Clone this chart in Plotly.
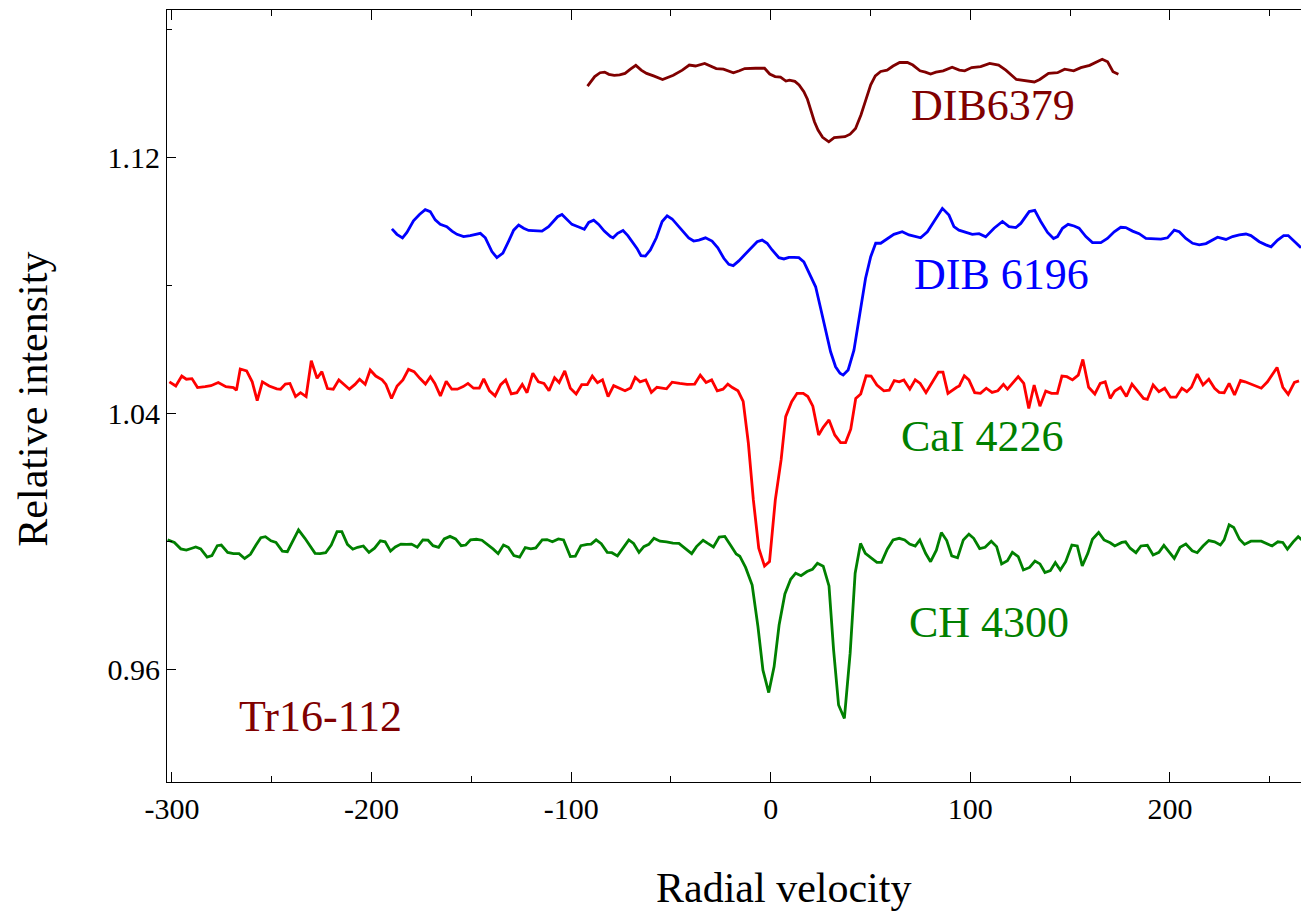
import plotly.graph_objects as go

# ---------------- data (radial velocity, relative intensity) ----------------
dib6379 = [(-91.8, 1.1423), (-88.2, 1.1453), (-85.5, 1.1465), (-83.2, 1.1467), (-81.1, 1.1460), (-78.4, 1.1457),
           (-75.7, 1.1458), (-73.0, 1.1463), (-70.3, 1.1476), (-67.6, 1.1488), (-64.9, 1.1473), (-62.2, 1.1463),
           (-58.7, 1.1455), (-54.2, 1.1444), (-48.8, 1.1457), (-44.3, 1.1473), (-40.8, 1.1489), (-37.7, 1.1486),
           (-33.1, 1.1494), (-30.5, 1.1487), (-27.3, 1.1478), (-23.7, 1.1476), (-18.7, 1.1465), (-15.7, 1.1471),
           (-13.0, 1.1478), (-7.6, 1.1479), (-3.1, 1.1479), (-0.5, 1.1461), (2.2, 1.1453), (4.9, 1.1451),
           (7.6, 1.1439), (9.4, 1.1442), (12.1, 1.1438), (14.2, 1.1427), (16.6, 1.1406), (18.4, 1.1382),
           (20.1, 1.1348), (21.9, 1.1312), (23.7, 1.1286), (26.0, 1.1263), (29.1, 1.1249), (31.8, 1.1262),
           (37.2, 1.1265), (39.8, 1.1273), (42.5, 1.1291), (45.2, 1.1333), (47.9, 1.1385), (50.1, 1.1427),
           (52.4, 1.1455), (55.1, 1.1469), (58.3, 1.1473), (61.3, 1.1486), (64.6, 1.1497), (68.5, 1.1497),
           (71.2, 1.1489), (74.8, 1.1471), (77.5, 1.1467), (80.1, 1.1461), (82.8, 1.1467), (86.4, 1.1471),
           (90.9, 1.1482), (94.5, 1.1473), (97.2, 1.1471), (100.7, 1.1481), (105.2, 1.1484), (109.7, 1.1494),
           (114.2, 1.1489), (117.8, 1.1473), (123.1, 1.1444), (128.5, 1.1440), (132.1, 1.1436), (134.8, 1.1444),
           (139.2, 1.1463), (143.7, 1.1465), (147.3, 1.1476), (151.8, 1.1471), (155.4, 1.1481), (159.8, 1.1488),
           (163.4, 1.1498), (166.1, 1.1507), (168.8, 1.1499), (171.5, 1.1468), (174.2, 1.1460)]

dib6196 = [(-189.8, 1.0977), (-187.3, 1.0960), (-184.5, 1.0949), (-182.3, 1.0966), (-179.0, 1.1002), (-176.0, 1.1022),
           (-173.1, 1.1037), (-170.6, 1.1031), (-168.1, 1.1005), (-165.6, 1.0991), (-162.3, 1.0984), (-159.7, 1.0970),
           (-157.2, 1.0960), (-153.9, 1.0953), (-150.6, 1.0956), (-145.5, 1.0963), (-143.0, 1.0949), (-139.7, 1.0906),
           (-137.2, 1.0887), (-134.2, 1.0901), (-131.3, 1.0939), (-128.8, 1.0973), (-126.3, 1.0989), (-123.8, 1.0979),
           (-121.3, 1.0972), (-118.0, 1.0972), (-114.6, 1.0970), (-111.3, 1.0984), (-108.8, 1.1000), (-106.8, 1.1015),
           (-104.6, 1.1022), (-102.4, 1.1008), (-99.6, 1.0991), (-96.2, 1.0983), (-93.4, 1.0976), (-91.2, 1.0997),
           (-88.7, 1.1004), (-86.2, 1.0991), (-83.4, 1.0970), (-80.3, 1.0953), (-79.0, 1.0949), (-76.7, 1.0963),
           (-74.0, 1.0972), (-71.6, 1.0956), (-69.0, 1.0935), (-67.0, 1.0916), (-65.0, 1.0893), (-62.8, 1.0892),
           (-60.3, 1.0911), (-57.3, 1.0949), (-54.4, 1.1000), (-51.9, 1.1018), (-49.4, 1.1008), (-46.9, 1.0991),
           (-43.6, 1.0968), (-41.1, 1.0949), (-38.6, 1.0939), (-36.0, 1.0942), (-32.7, 1.0949), (-29.4, 1.0939),
           (-26.5, 1.0918), (-23.5, 1.0885), (-21.0, 1.0866), (-18.8, 1.0862), (-16.0, 1.0877), (-12.6, 1.0899),
           (-9.3, 1.0921), (-6.8, 1.0937), (-4.3, 1.0942), (-1.8, 1.0932), (0.7, 1.0911), (4.1, 1.0887),
           (6.6, 1.0883), (9.1, 1.0888), (11.6, 1.0888), (14.1, 1.0887), (16.6, 1.0874), (19.1, 1.0843),
           (22.5, 1.0796), (25.0, 1.0729), (27.5, 1.0656), (30.0, 1.0593), (32.5, 1.0546), (34.7, 1.0526),
           (36.3, 1.0520), (38.8, 1.0536), (41.7, 1.0598), (45.4, 1.0744), (47.5, 1.0822), (50.1, 1.0890),
           (52.6, 1.0932), (55.1, 1.0932), (58.4, 1.0947), (61.7, 1.0960), (65.9, 1.0968), (69.3, 1.0958),
           (75.1, 1.0949), (78.5, 1.0968), (81.8, 1.1000), (86.0, 1.1041), (89.3, 1.1020), (91.8, 1.0984),
           (94.3, 1.0973), (97.7, 1.0966), (101.0, 1.0960), (104.4, 1.0962), (107.7, 1.0952), (111.9, 1.0979),
           (116.1, 1.1000), (119.4, 1.0984), (122.8, 1.0981), (125.3, 1.0994), (129.5, 1.1031), (132.3, 1.1035),
           (135.3, 1.1000), (138.7, 1.0966), (141.7, 1.0947), (143.7, 1.0953), (146.2, 1.0979), (149.0, 1.0991),
           (152.0, 1.0986), (154.5, 1.0979), (157.9, 1.0953), (161.2, 1.0934), (165.4, 1.0934), (168.7, 1.0947),
           (172.1, 1.0968), (175.4, 1.0982), (177.9, 1.0981), (181.3, 1.0970), (184.6, 1.0962), (188.0, 1.0947),
           (191.3, 1.0947), (195.5, 1.0945), (198.8, 1.0949), (202.2, 1.0973), (204.7, 1.0968), (208.0, 1.0947),
           (211.4, 1.0932), (214.7, 1.0927), (218.1, 1.0931), (221.4, 1.0942), (223.9, 1.0951), (228.1, 1.0944),
           (231.4, 1.0953), (234.8, 1.0958), (238.1, 1.0961), (240.6, 1.0956), (244.8, 1.0937), (248.1, 1.0927),
           (250.7, 1.0921), (254.0, 1.0942), (257.0, 1.0956), (259.3, 1.0956), (262.4, 1.0937), (265.7, 1.0918)]

cai4226 = [(-301.3, 1.0499), (-298.1, 1.0486), (-295.1, 1.0517), (-292.8, 1.0507), (-290.0, 1.0509), (-287.2, 1.0481),
           (-283.4, 1.0484), (-280.5, 1.0487), (-276.8, 1.0497), (-273.0, 1.0484), (-269.2, 1.0481), (-267.7, 1.0473),
           (-265.8, 1.0539), (-262.6, 1.0533), (-259.8, 1.0499), (-257.3, 1.0440), (-254.7, 1.0499), (-251.3, 1.0486),
           (-247.5, 1.0477), (-245.6, 1.0476), (-243.2, 1.0492), (-240.9, 1.0494), (-238.1, 1.0453), (-235.6, 1.0465),
           (-232.8, 1.0453), (-230.2, 1.0565), (-227.3, 1.0510), (-224.9, 1.0531), (-222.1, 1.0478), (-219.2, 1.0476),
           (-216.4, 1.0505), (-213.6, 1.0491), (-211.1, 1.0476), (-208.3, 1.0491), (-206.0, 1.0507), (-203.2, 1.0491),
           (-200.7, 1.0536), (-197.9, 1.0517), (-194.7, 1.0505), (-192.8, 1.0491), (-190.0, 1.0447), (-187.2, 1.0486),
           (-184.3, 1.0505), (-181.5, 1.0538), (-178.7, 1.0531), (-175.8, 1.0510), (-173.0, 1.0492), (-170.5, 1.0515),
           (-168.3, 1.0494), (-165.5, 1.0455), (-162.6, 1.0501), (-159.8, 1.0476), (-157.0, 1.0476), (-154.1, 1.0484),
           (-151.7, 1.0494), (-148.9, 1.0479), (-146.0, 1.0479), (-143.8, 1.0508), (-140.9, 1.0471), (-138.1, 1.0455),
           (-135.3, 1.0490), (-132.8, 1.0505), (-130.0, 1.0461), (-127.2, 1.0465), (-124.5, 1.0491), (-122.1, 1.0465),
           (-119.2, 1.0526), (-116.4, 1.0499), (-113.6, 1.0494), (-111.1, 1.0471), (-108.3, 1.0512), (-106.0, 1.0497),
           (-103.2, 1.0533), (-100.4, 1.0479), (-97.5, 1.0461), (-94.7, 1.0490), (-91.9, 1.0490), (-89.4, 1.0517),
           (-86.8, 1.0496), (-84.3, 1.0505), (-81.5, 1.0453), (-78.7, 1.0487), (-75.8, 1.0479), (-73.0, 1.0471),
           (-70.2, 1.0480), (-67.9, 1.0513), (-65.5, 1.0499), (-62.6, 1.0505), (-59.8, 1.0466), (-57.0, 1.0482),
           (-52.2, 1.0477), (-49.4, 1.0498), (-45.6, 1.0494), (-41.9, 1.0491), (-38.1, 1.0492), (-35.3, 1.0520),
           (-32.4, 1.0497), (-29.6, 1.0505), (-26.8, 1.0471), (-23.9, 1.0476), (-21.5, 1.0492), (-19.2, 1.0481),
           (-16.4, 1.0471), (-13.8, 1.0438), (-11.2, 1.0307), (-8.7, 1.0130), (-6.0, 0.9979), (-3.1, 0.9923),
           (-0.6, 0.9937), (2.3, 1.0130), (5.2, 1.0255), (7.5, 1.0390), (10.5, 1.0437), (13.2, 1.0463),
           (16.3, 1.0463), (18.6, 1.0453), (21.1, 1.0423), (24.0, 1.0333), (26.3, 1.0357), (29.2, 1.0380),
           (32.1, 1.0333), (35.0, 1.0309), (37.5, 1.0309), (40.1, 1.0351), (42.6, 1.0447), (45.1, 1.0461),
           (47.8, 1.0518), (50.3, 1.0517), (53.2, 1.0489), (56.7, 1.0471), (59.4, 1.0473), (61.9, 1.0503),
           (64.4, 1.0499), (66.7, 1.0505), (69.7, 1.0476), (72.4, 1.0505), (74.9, 1.0494), (77.8, 1.0465),
           (81.1, 1.0499), (84.0, 1.0529), (86.3, 1.0529), (88.8, 1.0463), (93.2, 1.0482), (94.5, 1.0486),
           (97.0, 1.0518), (99.3, 1.0505), (102.2, 1.0465), (105.1, 1.0463), (108.0, 1.0479), (110.9, 1.0466),
           (113.8, 1.0471), (116.6, 1.0491), (118.6, 1.0476), (120.9, 1.0492), (124.0, 1.0515), (126.8, 1.0494),
           (129.3, 1.0416), (132.0, 1.0489), (134.9, 1.0423), (137.8, 1.0470), (140.7, 1.0463), (143.6, 1.0463),
           (145.9, 1.0517), (148.4, 1.0515), (151.2, 1.0505), (154.1, 1.0520), (156.4, 1.0569), (159.3, 1.0482),
           (162.4, 1.0461), (165.1, 1.0494), (167.6, 1.0499), (170.1, 1.0447), (172.4, 1.0470), (175.3, 1.0482),
           (178.2, 1.0453), (181.0, 1.0492), (183.9, 1.0471), (186.8, 1.0447), (188.7, 1.0444), (191.6, 1.0489),
           (194.5, 1.0468), (197.4, 1.0479), (200.3, 1.0451), (203.1, 1.0451), (206.0, 1.0479), (208.5, 1.0468),
           (210.8, 1.0482), (213.7, 1.0523), (216.6, 1.0489), (219.5, 1.0507), (222.4, 1.0479), (224.7, 1.0466),
           (227.2, 1.0465), (229.7, 1.0494), (232.4, 1.0458), (235.4, 1.0503), (237.7, 1.0499), (241.6, 1.0489),
           (245.8, 1.0479), (248.9, 1.0499), (251.6, 1.0526), (253.7, 1.0544), (256.6, 1.0482), (259.3, 1.0460),
           (262.4, 1.0497), (264.7, 1.0502)]

ch4300 = [(-302.2, 1.0005), (-298.8, 0.9997), (-295.6, 0.9977), (-292.8, 0.9973), (-290.0, 0.9979), (-288.1, 0.9983),
          (-285.6, 0.9977), (-282.4, 0.9951), (-280.0, 0.9956), (-277.3, 0.9987), (-275.3, 0.9989), (-272.1, 0.9966),
          (-269.2, 0.9962), (-266.4, 0.9962), (-263.6, 0.9947), (-260.7, 0.9960), (-257.9, 0.9989), (-255.5, 1.0012),
          (-253.2, 1.0015), (-250.4, 1.0002), (-247.9, 0.9997), (-244.7, 0.9970), (-242.2, 0.9968), (-239.6, 0.9999),
          (-236.6, 1.0036), (-233.4, 1.0010), (-230.5, 0.9984), (-228.3, 0.9963), (-225.8, 0.9962), (-223.0, 0.9965),
          (-220.2, 0.9989), (-217.3, 1.0031), (-214.9, 1.0031), (-212.1, 0.9991), (-209.4, 0.9976), (-207.0, 0.9982),
          (-204.1, 0.9986), (-201.3, 0.9966), (-198.5, 0.9979), (-195.6, 1.0002), (-193.2, 0.9999), (-190.5, 0.9970),
          (-188.1, 0.9983), (-185.3, 0.9992), (-182.4, 0.9991), (-180.0, 0.9992), (-177.1, 0.9982), (-174.3, 1.0005),
          (-171.7, 1.0004), (-169.2, 0.9987), (-166.4, 0.9982), (-163.6, 1.0008), (-160.7, 1.0016), (-157.9, 1.0008),
          (-155.1, 0.9987), (-152.8, 0.9989), (-150.4, 1.0005), (-147.5, 1.0007), (-144.7, 1.0004), (-141.9, 0.9991),
          (-139.0, 0.9976), (-136.6, 0.9962), (-133.9, 0.9989), (-131.5, 0.9982), (-128.7, 0.9956), (-125.8, 0.9951),
          (-123.0, 0.9981), (-120.2, 0.9977), (-117.7, 0.9980), (-114.5, 1.0005), (-112.1, 1.0006), (-109.4, 0.9999),
          (-106.4, 1.0008), (-103.8, 1.0005), (-100.4, 0.9953), (-97.9, 0.9954), (-95.1, 0.9987), (-91.9, 0.9991),
          (-90.0, 0.9992), (-87.5, 1.0005), (-84.9, 0.9993), (-81.9, 0.9966), (-79.6, 0.9965), (-76.8, 0.9955),
          (-73.9, 0.9982), (-71.1, 1.0005), (-68.7, 0.9994), (-66.0, 0.9966), (-63.6, 0.9984), (-61.1, 0.9991),
          (-58.5, 1.0010), (-55.5, 1.0001), (-52.2, 0.9999), (-49.0, 0.9995), (-46.0, 0.9994), (-42.8, 0.9979),
          (-39.6, 0.9962), (-37.2, 0.9984), (-33.9, 1.0004), (-31.5, 0.9994), (-28.7, 0.9983), (-25.8, 1.0014),
          (-23.0, 1.0016), (-20.2, 0.9989), (-17.3, 0.9961), (-15.5, 0.9954), (-12.6, 0.9919), (-9.3, 0.9864),
          (-6.4, 0.9734), (-3.9, 0.9598), (-1.0, 0.9528), (1.7, 0.9609), (4.2, 0.9739), (7.1, 0.9836),
          (10.0, 0.9882), (12.5, 0.9901), (15.2, 0.9893), (18.2, 0.9906), (20.9, 0.9913), (23.4, 0.9932),
          (26.3, 0.9923), (29.2, 0.9861), (31.5, 0.9661), (34.0, 0.9489), (36.9, 0.9447), (39.8, 0.9651),
          (42.3, 0.9901), (45.0, 0.9994), (47.4, 0.9963), (50.3, 0.9949), (53.2, 0.9935), (55.5, 0.9935),
          (58.4, 0.9976), (61.3, 1.0005), (64.4, 1.0010), (67.1, 1.0005), (69.6, 0.9992), (72.4, 0.9986),
          (74.7, 1.0005), (77.6, 0.9963), (80.1, 0.9937), (83.0, 0.9973), (85.5, 1.0028), (88.2, 1.0003),
          (90.7, 0.9955), (93.6, 0.9949), (96.5, 1.0005), (99.3, 1.0023), (101.7, 1.0010), (104.7, 0.9978),
          (107.4, 0.9982), (110.5, 1.0001), (113.2, 0.9984), (115.7, 0.9930), (118.6, 0.9940), (121.1, 0.9966),
          (124.0, 0.9953), (126.6, 0.9911), (129.7, 0.9919), (132.4, 0.9939), (134.9, 0.9930), (137.4, 0.9903),
          (140.1, 0.9909), (142.6, 0.9934), (145.1, 0.9911), (147.8, 0.9937), (150.9, 0.9989), (153.6, 0.9986),
          (156.1, 0.9924), (158.9, 0.9963), (161.2, 1.0007), (164.3, 1.0028), (167.0, 1.0005), (170.1, 0.9996),
          (172.4, 0.9986), (175.9, 0.9997), (177.8, 0.9999), (180.1, 0.9979), (183.0, 0.9965), (185.5, 0.9986),
          (188.7, 0.9988), (191.6, 0.9958), (194.5, 0.9966), (197.0, 0.9988), (199.7, 0.9968), (202.2, 0.9947),
          (205.1, 0.9982), (208.0, 0.9992), (211.2, 0.9971), (213.7, 0.9965), (216.6, 0.9986), (219.5, 1.0003),
          (222.4, 0.9999), (225.3, 0.9989), (227.2, 1.0005), (229.7, 1.0052), (232.0, 1.0044), (234.9, 1.0007),
          (237.4, 0.9991), (240.6, 1.0001), (245.8, 1.0001), (248.9, 0.9991), (251.2, 0.9986), (254.1, 0.9999),
          (256.6, 0.9997), (258.9, 0.9976), (261.8, 0.9999), (264.3, 1.0015), (266.2, 1.0005)]

x_tick_vals = [-300, -200, -100, 0, 100, 200]
x_tick_text = ["-300", "-200", "-100", "0", "100", "200"]
x_minor_vals = [-250, -150, -50, 50, 150, 250]
y_tick_vals = [0.96, 1.04, 1.12]
y_tick_text = ["0.96", "1.04", "1.12"]
y_minor_vals = [1.00, 1.08, 1.16]

labels = [("DIB6379", 111.6, 1.1364, "#800000"),
          ("DIB 6196", 115.5, 1.0833, "#0000ff"),
          ("CaI 4226", 106.1, 1.0327, "#008000"),
          ("CH 4300", 109.6, 0.9748, "#008000"),
          ("Tr16-112", -225.8, 0.9452, "#800000")]

series = [(dib6379, "#800000"), (dib6196, "#0000ff"), (cai4226, "#ff0000"), (ch4300, "#008000")]

FONT = "Liberation Serif, DejaVu Serif, Times New Roman, serif"

fig = go.Figure()
for data, color in series:
    xs = [p[0] for p in data]
    ys = [p[1] for p in data]
    fig.add_trace(go.Scatter(x=xs, y=ys, mode="lines", line=dict(color=color, width=2.8),
                             hoverinfo="skip", cliponaxis=True))

for text, x, y, color in labels:
    fig.add_annotation(x=x, y=y, xref="x", yref="y", text=text, showarrow=False,
                       font=dict(family=FONT, size=44, color=color),
                       xanchor="center", yanchor="middle")

fig.add_annotation(x=0.5437, y=-0.137, xref="paper", yref="paper", text="Radial velocity",
                   showarrow=False, font=dict(family=FONT, size=42, color="black"),
                   xanchor="center", yanchor="middle")
fig.add_annotation(x=-0.118, y=0.4955, xref="paper", yref="paper", text="Relative intensity",
                   showarrow=False, textangle=-90, font=dict(family=FONT, size=42, color="black"),
                   xanchor="center", yanchor="middle")

fig.update_layout(
    width=1301, height=911,
    margin=dict(l=167, r=0, t=10, b=129, pad=0),
    paper_bgcolor="white", plot_bgcolor="white",
    showlegend=False,
    font=dict(family=FONT, color="black"),
    xaxis=dict(range=[-302.5, 265.7], tickmode="array", tickvals=x_tick_vals, ticktext=x_tick_text,
               ticks="inside", ticklen=10, tickwidth=1, tickcolor="black",
               showline=True, linecolor="black", linewidth=1, mirror="ticks",
               showgrid=False, zeroline=False, tickfont=dict(family=FONT, size=30, color="black"),
               minor=dict(tickmode="array", tickvals=x_minor_vals, ticks="inside", ticklen=6,
                          tickcolor="black", tickwidth=1, showgrid=False)),
    yaxis=dict(range=[0.92484, 1.1661], tickmode="array", tickvals=y_tick_vals, ticktext=y_tick_text,
               ticks="inside", ticklen=9, tickwidth=1, tickcolor="black",
               showline=True, linecolor="black", linewidth=1, mirror=False,
               showgrid=False, zeroline=False, tickfont=dict(family=FONT, size=30, color="black"),
               minor=dict(tickmode="array", tickvals=y_minor_vals, ticks="inside", ticklen=5,
                          tickcolor="black", tickwidth=1, showgrid=False)),
)

fig.write_html("out.html")
